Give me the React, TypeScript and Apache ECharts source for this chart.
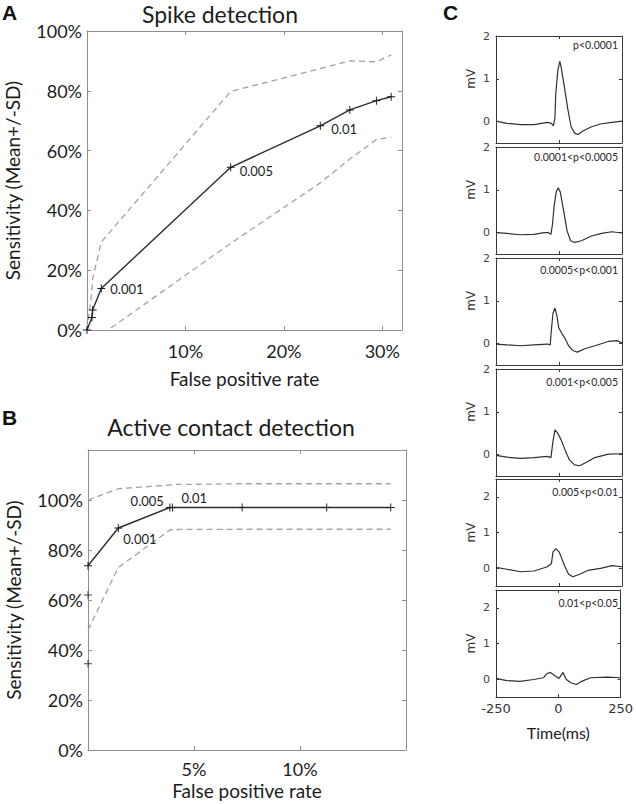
import React, { useEffect, useRef } from "react";
import * as echarts from "echarts";

// ---------- Panel A: spike detection ----------
const spikeFpr = [0, 0.5, 0.57, 1.45, 14.6, 23.7, 26.7, 29.4, 30.9];
const spikeMean = [0, 4.2, 6.7, 13.9, 54.4, 68.3, 73.6, 76.7, 78];
const spikeUpper = [0, 13, 17, 29.4, 79.8, 87.4, 90, 89.7, 92];
const spikeLower = [0, -4.6, -3.6, -1.6, 29, 49.2, 57.2, 63.7, 64.5];
const spikeThresholds = ["", "", "", "0.001", "0.005", "0.01", "", "", ""];

// ---------- Panel B: active contact detection ----------
const contactFpr = [0, 0, 0, 1.43, 3.86, 3.98, 7.27, 11.26, 14.28];
const contactMean = [34.5, 62, 73.7, 88.8, 97, 97, 97, 97, 97];
const contactUpper = [null, null, 100, 104.5, 106, 106.2, 106.5, 106.5, 106.5];
const contactLower = [null, null, 48, 73, 88, 88.2, 88.3, 88.3, 88.3];
const contactThresholds = ["", "", "", "0.001", "0.005", "0.01", "", "", ""];

// ---------- Panel C: averaged waveforms ----------
const pLabels = [
  "p<0.0001",
  "0.0001<p<0.0005",
  "0.0005<p<0.001",
  "0.001<p<0.005",
  "0.005<p<0.01",
  "0.01<p<0.05",
];
const waveMax = [2, 2, 2, 2, 2.5, 2.5];
const waveT1 = [-250, -207, -153, -99, -46, -30, -22, -16, -13, -5, 3, 8, 22, 35, 48, 62, 75, 95, 129, 169, 210, 250];
const waveV1 = [0.01, -0.04, -0.07, -0.07, -0.02, -0.04, -0.1, 0.1, 0.64, 1.18, 1.41, 1.29, 0.79, 0.29, -0.12, -0.27, -0.3, -0.22, -0.12, -0.05, -0.02, 0.01];
const waveT2 = [-250, -207, -153, -99, -59, -43, -32, -26, -19, -11, -3, 5, 19, 32, 46, 62, 89, 129, 169, 210, 250];
const waveV2 = [0, -0.02, -0.05, -0.04, 0, 0, -0.04, 0.19, 0.64, 0.95, 1.05, 0.95, 0.49, 0.04, -0.19, -0.23, -0.19, -0.08, -0.02, 0.02, -0.01];
const waveT3 = [-250, -207, -153, -99, -46, -35, -30, -24, -16, -8, -1, 8, 22, 38, 55, 73, 102, 142, 196, 230, 250];
const waveV3 = [-0.01, -0.03, -0.05, -0.03, -0.01, -0.03, 0.33, 0.71, 0.83, 0.64, 0.37, 0.27, 0.14, -0.05, -0.16, -0.2, -0.12, -0.05, 0.05, 0.07, 0.02];
const waveT4 = [-250, -207, -153, -99, -46, -32, -24, -16, -5, 8, 24, 42, 62, 82, 109, 142, 196, 250];
const waveV4 = [-0.02, -0.06, -0.09, -0.07, -0.04, -0.07, 0.31, 0.58, 0.5, 0.35, 0.11, -0.13, -0.24, -0.26, -0.18, -0.07, 0.01, 0.02];
const waveT5 = [-250, -207, -153, -99, -46, -30, -24, -13, 1, 22, 38, 55, 82, 116, 169, 210, 250];
const waveV5 = [0.02, -0.03, -0.1, -0.08, 0.04, 0.13, 0.45, 0.55, 0.45, 0.07, -0.17, -0.24, -0.17, -0.06, 0, 0.07, 0.04];
const waveT6 = [-250, -207, -153, -99, -59, -46, -32, -16, 3, 19, 32, 51, 73, 91, 129, 196, 250];
const waveV6 = [0.02, -0.04, -0.06, -0.01, 0.04, 0.15, 0.19, 0.11, 0.02, 0.19, -0.01, -0.1, -0.15, -0.07, 0.04, 0.06, 0.04];
const waveTimes = [waveT1, waveT2, waveT3, waveT4, waveT5, waveT6];
const waveValues = [waveV1, waveV2, waveV3, waveV4, waveV5, waveV6];
const waveYTicks = [0, 1, 2];

// ---------- layout / style ----------
const FONT = "Lato, 'Open Sans', sans-serif";
const NUM_FONT = "'DejaVu Sans', sans-serif";
const TXT = "#1c1c1c";
const FRAME = "#8f8f8f";
const DASH = "#a3a3a3";
const LINE = "#2e2e2e";
const C_FRAME = "#3a3a3a";
const PLUS = "path://M4.4,0H5.6V4.4H10V5.6H5.6V10H4.4V5.6H0V4.4H4.4Z";

const gridA = { left: 87, top: 31, width: 315, height: 299 };
const gridB = { left: 88, top: 450, width: 318, height: 300 };
const cLeft = 496;
const cWidth = 126;
const cHeight = 107;
const cTops = [36, 147, 258, 369, 479, 590];
const pLabelDy = [9, 10, 12, 13, 13, 13];

const labelPlaceA: Record<string, any> = {
  "0.001": { position: "right", offset: [0, 1] },
  "0.005": { position: "right", offset: [0, 4] },
  "0.01": { position: "right", offset: [2, 3] },
};
const labelPlaceB: Record<string, any> = {
  "0.001": { position: "right", offset: [-4, 11] },
  "0.005": { position: "left", offset: [3, -7] },
  "0.01": { position: "right", offset: [0, -10] },
};

function pairs(xs: number[], ys: (number | null)[]) {
  const out: number[][] = [];
  xs.forEach((x, i) => {
    if (ys[i] !== null && ys[i] !== undefined) out.push([x, ys[i] as number]);
  });
  return out;
}

function frameAxis(gridIndex: number, position: string, color: string, extra: any = {}) {
  return {
    type: "value",
    gridIndex,
    position,
    axisLine: { show: true, onZero: false, lineStyle: { color, width: 1 } },
    axisTick: { show: true, inside: true, length: 4, lineStyle: { color, width: 1 } },
    axisLabel: { show: false },
    splitLine: { show: false },
    ...extra,
  };
}

function buildOption() {
  const grids: any[] = [
    { ...gridA, containLabel: false },
    { ...gridB, containLabel: false },
    ...cTops.map((t) => ({ left: cLeft, top: t, width: cWidth, height: cHeight })),
  ];

  const tickLabel = { fontSize: 18, color: TXT, fontFamily: FONT };
  const nameStyle = { fontSize: 19, color: TXT, fontFamily: FONT };

  const xAxes: any[] = [
    frameAxis(0, "bottom", FRAME, {
      min: 0, max: 32, interval: 10,
      axisLabel: { ...tickLabel, show: true, margin: 12, formatter: (v: number) => (v === 0 ? "" : v + "%") },
      name: "False positive rate", nameLocation: "middle", nameGap: 39, nameTextStyle: nameStyle,
    }),
    frameAxis(0, "top", FRAME, { min: 0, max: 32, interval: 10 }),
    frameAxis(1, "bottom", FRAME, {
      min: 0, max: 15, interval: 5,
      axisLabel: { ...tickLabel, show: true, margin: 10, formatter: (v: number) => (v === 0 || v === 15 ? "" : v + "%") },
      name: "False positive rate", nameLocation: "middle", nameGap: 31, nameTextStyle: nameStyle,
    }),
    frameAxis(1, "top", FRAME, { min: 0, max: 15, interval: 5 }),
  ];
  const yAxes: any[] = [
    frameAxis(0, "left", FRAME, {
      min: 0, max: 100, interval: 20,
      axisLabel: { ...tickLabel, show: true, margin: 5, formatter: (v: number) => v + "%" },
      name: "Sensitivity (Mean+/-SD)", nameLocation: "middle", nameGap: 65, nameTextStyle: nameStyle,
    }),
    frameAxis(0, "right", FRAME, { min: 0, max: 100, interval: 20 }),
    frameAxis(1, "left", FRAME, {
      min: 0, max: 120, interval: 20,
      axisLabel: { ...tickLabel, show: true, margin: 5, formatter: (v: number) => (v === 120 ? "" : v + "%") },
      name: "Sensitivity (Mean+/-SD)", nameLocation: "middle", nameGap: 65, nameTextStyle: nameStyle,
    }),
    frameAxis(1, "right", FRAME, { min: 0, max: 120, interval: 20 }),
  ];

  const series: any[] = [];
  // Panel A
  const dashStyle = { color: DASH, width: 1.3, type: [6, 4] };
  series.push({ type: "line", xAxisIndex: 0, yAxisIndex: 0, data: pairs(spikeFpr, spikeUpper), symbol: "none", lineStyle: dashStyle, silent: true });
  series.push({ type: "line", xAxisIndex: 0, yAxisIndex: 0, data: pairs(spikeFpr, spikeLower), symbol: "none", lineStyle: dashStyle, silent: true });
  series.push({
    type: "line", xAxisIndex: 0, yAxisIndex: 0,
    data: spikeFpr.map((x, i) => {
      const t = spikeThresholds[i];
      const item: any = { value: [x, spikeMean[i]] };
      if (t) item.label = { show: true, formatter: t, fontSize: 13, color: TXT, fontFamily: FONT, ...labelPlaceA[t] };
      return item;
    }),
    symbol: PLUS, symbolSize: 8, showSymbol: true,
    itemStyle: { color: "#1a1a1a" },
    lineStyle: { color: LINE, width: 1.4 },
  });
  // Panel B
  const startB = contactFpr.lastIndexOf(0);
  series.push({ type: "line", xAxisIndex: 2, yAxisIndex: 2, data: pairs(contactFpr, contactUpper), symbol: "none", lineStyle: dashStyle, silent: true });
  series.push({ type: "line", xAxisIndex: 2, yAxisIndex: 2, data: pairs(contactFpr, contactLower), symbol: "none", lineStyle: dashStyle, silent: true });
  series.push({
    type: "line", xAxisIndex: 2, yAxisIndex: 2,
    data: contactFpr.slice(startB).map((x, j) => {
      const i = j + startB;
      const t = contactThresholds[i];
      const item: any = { value: [x, contactMean[i]] };
      if (t) item.label = { show: true, formatter: t, fontSize: 13, color: TXT, fontFamily: FONT, ...labelPlaceB[t] };
      return item;
    }),
    symbol: PLUS, symbolSize: 8, showSymbol: true,
    itemStyle: { color: "#1a1a1a" },
    lineStyle: { color: LINE, width: 1.4 },
  });
  series.push({
    type: "scatter", xAxisIndex: 2, yAxisIndex: 2,
    data: contactFpr.slice(0, startB).map((x, i) => [x, contactMean[i]]),
    symbol: PLUS, symbolSize: 8, itemStyle: { color: "#1a1a1a" },
  });

  // Panel C
  const graphics: any[] = [];
  cTops.forEach((top, k) => {
    const g = k + 2;
    const last = k === cTops.length - 1;
    const xi = xAxes.length;
    xAxes.push(frameAxis(g, "bottom", C_FRAME, {
      min: -250, max: 250, interval: 250,
      axisTick: { show: true, inside: true, length: 3, lineStyle: { color: C_FRAME } },
      axisLabel: last ? { show: true, fontSize: 13, color: "#333", fontFamily: NUM_FONT, margin: 5 } : { show: false },
      name: last ? "Time(ms)" : "", nameLocation: "middle", nameGap: 27,
      nameTextStyle: { fontSize: 16, color: TXT, fontFamily: FONT },
    }));
    xAxes.push(frameAxis(g, "top", C_FRAME, {
      min: -250, max: 250, interval: 250,
      axisTick: { show: true, inside: true, length: 3, lineStyle: { color: C_FRAME } },
    }));
    const yi = yAxes.length;
    yAxes.push(frameAxis(g, "left", C_FRAME, {
      min: -0.5, max: waveMax[k],
      axisTick: { show: true, inside: true, length: 3, customValues: waveYTicks, lineStyle: { color: C_FRAME } },
      axisLabel: { show: true, customValues: waveYTicks, fontSize: 11, color: "#444", fontFamily: NUM_FONT, margin: 6 },
    }));
    yAxes.push(frameAxis(g, "right", C_FRAME, {
      min: -0.5, max: waveMax[k],
      axisTick: { show: true, inside: true, length: 3, customValues: waveYTicks, lineStyle: { color: C_FRAME } },
    }));
    series.push({
      type: "line", xAxisIndex: xi, yAxisIndex: yi,
      data: pairs(waveTimes[k], waveValues[k]),
      symbol: "none", lineStyle: { color: "#303030", width: 1.2 }, silent: true,
    });
    const oneY = top + (cHeight * (waveMax[k] - 1)) / (waveMax[k] + 0.5);
    graphics.push({
      type: "text", x: 471, y: oneY, rotation: Math.PI / 2,
      style: { text: "mV", fontSize: 12, fill: "#333", fontFamily: NUM_FONT, textAlign: "center", textVerticalAlign: "middle" },
    });
    graphics.push({
      type: "text", x: cLeft + cWidth - 4, y: top + pLabelDy[k],
      style: { text: pLabels[k], fontSize: 10.5, fill: "#2a2a2a", fontFamily: FONT, textAlign: "right", textVerticalAlign: "middle" },
    });
  });

  graphics.push(
    { type: "text", x: 2, y: 2, style: { text: "A", fontSize: 21, fontWeight: "bold", fill: "#111", fontFamily: "'Liberation Sans', Arial, sans-serif" } },
    { type: "text", x: 2, y: 407, style: { text: "B", fontSize: 21, fontWeight: "bold", fill: "#111", fontFamily: "'Liberation Sans', Arial, sans-serif" } },
    { type: "text", x: 443, y: 2, style: { text: "C", fontSize: 21, fontWeight: "bold", fill: "#111", fontFamily: "'Liberation Sans', Arial, sans-serif" } },
    { type: "text", x: 220, y: 14, style: { text: "Spike detection", fontSize: 23, fill: TXT, fontFamily: FONT, textAlign: "center", textVerticalAlign: "middle" } },
    { type: "text", x: 231, y: 427, style: { text: "Active contact detection", fontSize: 23, fill: TXT, fontFamily: FONT, textAlign: "center", textVerticalAlign: "middle" } },
  );

  return {
    animation: false,
    backgroundColor: "#ffffff",
    grid: grids,
    xAxis: xAxes,
    yAxis: yAxes,
    series,
    graphic: graphics,
  };
}

export default function App() {
  const ref = useRef<HTMLDivElement>(null);
  useEffect(() => {
    if (!ref.current) return;
    const chart = echarts.init(ref.current, undefined, { renderer: "svg" });
    chart.setOption(buildOption() as any);
    return () => chart.dispose();
  }, []);
  return (
    <div
      ref={ref}
      style={{ position: "absolute", left: 0, top: 0, width: 636, height: 804, background: "#fff" }}
    />
  );
}
